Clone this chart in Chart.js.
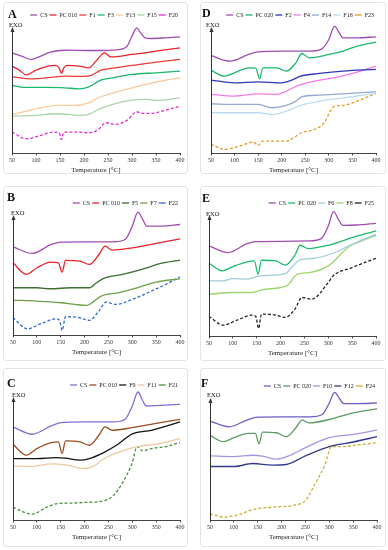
<!DOCTYPE html>
<html><head><meta charset="utf-8">
<script src="https://cdn.jsdelivr.net/npm/chart.js@4"></script>
<style>
html,body{margin:0;padding:0;background:#fff;}
body{width:388px;height:550px;position:relative;overflow:hidden;font-family:"Liberation Serif",serif;color:#111;}
.box{position:absolute;border:1px solid #e4e4e4;border-radius:3px;box-sizing:border-box;}
.cv{position:absolute;}
.lt{position:absolute;font-weight:bold;font-size:12px;line-height:1;}
.exo{position:absolute;font-size:6.5px;line-height:1;}
</style></head><body>
<div class="box" style="left:3px;top:2px;width:185px;height:172px"></div>
<div class="box" style="left:200px;top:2px;width:186px;height:172px"></div>
<div class="box" style="left:3px;top:186px;width:185px;height:175px"></div>
<div class="box" style="left:200px;top:186px;width:186px;height:175px"></div>
<div class="box" style="left:3px;top:368px;width:185px;height:179px"></div>
<div class="box" style="left:200px;top:368px;width:186px;height:179px"></div>
<canvas id="cA" class="cv" style="left:0;top:0"></canvas>
<canvas id="cD" class="cv" style="left:194px;top:0"></canvas>
<canvas id="cB" class="cv" style="left:0;top:180px"></canvas>
<canvas id="cE" class="cv" style="left:194px;top:180px"></canvas>
<canvas id="cC" class="cv" style="left:0;top:362px"></canvas>
<canvas id="cF" class="cv" style="left:194px;top:362px"></canvas>
<div class="lt" style="left:8px;top:8px">A</div>
<div class="lt" style="left:202px;top:7px">D</div>
<div class="lt" style="left:7px;top:191px">B</div>
<div class="lt" style="left:202px;top:192px">E</div>
<div class="lt" style="left:7px;top:377px">C</div>
<div class="lt" style="left:201px;top:377px">F</div>
<div class="exo" style="left:9px;top:22px">EXO</div>
<div class="exo" style="left:206px;top:22px">EXO</div>
<div class="exo" style="left:11px;top:210px">EXO</div>
<div class="exo" style="left:206px;top:211px">EXO</div>
<div class="exo" style="left:12px;top:392px">EXO</div>
<div class="exo" style="left:207px;top:392px">EXO</div>
<script>
// x-axis tick labels (°C)
const tempTicks = [50, 100, 150, 200, 250, 300, 350, 400];

// Panel A  [temperature °C, heat flow (arb. units)]
const A_CS = [[50,30.2],[70,29.2],[90,28.2],[110,29.2],[130,30.4],[150,30.9],[170,31.0],[200,30.9],[230,30.9],[260,31.0],[280,31.4],[290,32.2],[300,35.2],[310,37.7],[318,36.2],[327,34.7],[340,34.5],[370,34.7],[400,35.0]];
const A_PC010 = [[50,26.2],[65,25.0],[80,23.6],[100,25.0],[120,26.0],[140,26.4],[148,25.7],[153,24.0],[158,25.7],[165,26.4],[190,26.2],[210,25.7],[225,27.7],[243,30.2],[255,29.0],[300,29.7],[350,30.7],[400,31.7]];
const A_F1 = [[50,23.0],[90,22.4],[130,22.8],[160,23.2],[200,23.1],[215,23.4],[235,25.0],[260,25.6],[300,26.4],[350,27.4],[400,28.2]];
const A_F3 = [[50,20.4],[80,19.8],[120,19.8],[160,19.7],[190,19.4],[210,20.0],[235,22.0],[260,22.7],[300,23.7],[350,24.2],[400,24.7]];
const A_F13 = [[50,11.7],[80,12.7],[120,14.0],[150,14.4],[180,14.4],[210,15.2],[230,16.7],[250,17.7],[300,19.7],[350,21.4],[400,22.7]];
const A_F15 = [[50,11.2],[100,11.4],[140,11.9],[170,11.7],[190,11.4],[210,11.7],[230,13.2],[260,14.7],[300,16.0],[330,16.2],[350,15.9],[400,16.7]];
const A_F20 = [[50,6.4],[80,4.4],[110,5.4],[135,6.4],[148,6.2],[153,4.2],[158,6.4],[180,6.4],[210,6.2],[230,7.2],[245,9.2],[265,8.7],[290,10.0],[310,12.5],[320,12.0],[340,12.0],[370,13.0],[400,14.2]];

// Panel D
const D_CS = [[50,29.4],[90,27.7],[130,29.7],[150,30.5],[200,30.7],[260,30.7],[285,31.4],[300,34.2],[312,38.2],[322,36.2],[330,34.7],[360,34.7],[400,35.0]];
const D_PC020 = [[50,25.0],[78,23.2],[100,24.2],[130,25.7],[145,25.6],[153,22.4],[160,25.7],[190,25.7],[210,24.7],[230,27.2],[243,30.0],[258,28.7],[300,29.7],[330,30.7],[360,32.2],[400,33.4]];
const D_F2 = [[50,22.0],[100,21.2],[150,21.5],[200,21.2],[220,21.9],[240,23.2],[280,24.0],[330,24.7],[400,25.2]];
const D_F4 = [[50,17.7],[100,17.2],[150,17.9],[190,17.7],[210,18.7],[235,20.4],[270,21.7],[320,23.0],[360,24.4],[400,26.2]];
const D_F14 = [[50,14.9],[100,14.7],[150,14.7],[180,13.7],[210,14.4],[230,15.7],[242,17.0],[280,17.5],[330,17.9],[400,18.5]];
const D_F16 = [[50,12.2],[100,12.2],[150,12.2],[180,11.7],[210,12.7],[240,14.4],[280,15.7],[330,16.7],[400,18.0]];
const D_F23 = [[50,2.7],[80,1.2],[110,2.2],[140,3.4],[150,2.4],[160,3.7],[210,3.7],[225,4.7],[245,6.4],[265,6.9],[290,9.2],[310,14.0],[330,14.4],[360,15.7],[400,18.0]];

// Panel B
const B_CS = [[50,26.6],[90,24.6],[130,27.3],[150,28.0],[200,28.1],[260,28.1],[285,28.8],[300,32.8],[312,37.0],[322,34.8],[330,32.8],[360,32.8],[400,33.3]];
const B_PC010 = [[50,21.8],[78,18.3],[100,20.3],[130,22.0],[145,21.8],[153,19.0],[160,22.5],[190,22.3],[210,21.3],[230,24.3],[243,26.8],[258,25.6],[300,26.3],[350,27.6],[400,29.0]];
const B_F5 = [[50,14.3],[100,14.3],[130,14.0],[170,14.3],[210,14.3],[225,15.8],[240,17.1],[280,18.3],[320,19.8],[360,21.6],[400,22.6]];
const B_F7 = [[50,10.6],[100,10.3],[150,9.8],[180,9.3],[205,9.0],[220,10.3],[235,11.8],[270,12.8],[310,14.3],[350,16.0],[400,17.0]];
const B_F22 = [[50,5.3],[80,2.0],[110,3.6],[140,5.0],[148,4.3],[153,1.5],[160,5.6],[190,5.3],[210,4.5],[230,7.3],[245,10.0],[265,9.3],[300,10.8],[340,13.3],[370,15.3],[400,17.6]];

// Panel E
const E_CS = [[50,27.2],[90,25.2],[130,27.9],[150,28.5],[200,28.6],[260,28.7],[285,29.4],[300,33.2],[311,37.5],[322,35.0],[330,33.4],[360,33.5],[400,34.0]];
const E_PC020 = [[50,22.0],[78,19.7],[100,21.0],[130,22.4],[145,22.7],[153,18.7],[160,22.9],[190,22.7],[210,21.4],[230,24.4],[241,27.4],[258,26.4],[300,27.4],[350,29.7],[400,31.7]];
const E_F6 = [[50,16.7],[80,16.7],[100,17.4],[130,17.2],[150,18.0],[180,18.4],[210,18.9],[225,21.0],[240,23.0],[270,23.5],[310,25.0],[350,27.7],[400,30.7]];
const E_F8 = [[50,12.7],[100,13.2],[140,13.2],[160,14.0],[200,14.7],[215,15.4],[235,18.7],[260,19.2],[300,21.2],[345,27.2],[370,28.7],[400,30.4]];
const E_F25 = [[50,6.0],[80,3.4],[110,5.0],[140,6.4],[148,6.0],[154,2.4],[160,6.7],[190,6.4],[210,5.7],[230,8.2],[245,11.7],[265,11.2],[300,16.2],[310,18.2],[350,20.7],[400,23.5]];

// Panel C
const C_CS = [[50,28.1],[90,25.9],[130,28.4],[150,29.4],[200,29.6],[260,29.6],[285,30.4],[300,34.4],[312,38.6],[322,35.9],[330,34.4],[360,34.6],[400,34.9]];
const C_PC010 = [[50,22.9],[78,19.6],[100,21.6],[130,23.4],[145,23.6],[153,20.1],[160,23.9],[190,23.6],[210,22.6],[230,25.6],[243,28.1],[258,27.1],[300,27.9],[350,29.2],[400,30.4]];
const C_F9 = [[50,18.6],[100,18.6],[140,18.9],[160,18.7],[190,18.1],[210,18.6],[240,20.4],[270,22.9],[300,26.0],[340,27.1],[400,29.6]];
const C_F11 = [[50,16.4],[90,16.2],[130,17.0],[160,16.7],[200,15.6],[220,16.4],[245,18.9],[280,20.9],[310,22.2],[350,22.9],[400,24.6]];
const C_F21 = [[50,3.9],[90,1.9],[120,3.9],[145,5.1],[170,5.2],[200,5.4],[240,5.9],[260,7.4],[280,11.4],[300,17.4],[310,22.2],[322,20.9],[340,21.6],[370,22.2],[400,23.4]];

// Panel F
const F_CS = [[50,30.0],[90,28.3],[130,30.5],[150,31.2],[200,31.3],[260,31.3],[285,32.0],[300,35.5],[311,38.7],[322,36.7],[330,35.3],[360,35.3],[400,35.5]];
const F_PC020 = [[50,25.7],[78,23.8],[100,25.0],[130,26.3],[145,26.3],[153,23.2],[160,26.7],[190,26.5],[210,25.3],[230,28.0],[243,30.3],[258,29.5],[300,30.5],[350,32.5],[400,33.7]];
const F_F10 = [[50,19.5],[100,19.3],[140,19.7],[160,19.4],[190,18.5],[215,19.5],[250,22.0],[300,25.0],[350,26.0],[400,27.3]];
const F_F12 = [[50,16.3],[100,16.3],[140,17.2],[180,16.7],[210,16.9],[250,19.5],[300,22.3],[350,23.7],[400,25.3]];
const F_F24 = [[50,2.0],[80,1.0],[110,1.7],[140,3.3],[180,4.0],[230,4.7],[250,6.0],[270,11.0],[290,16.5],[305,22.3],[330,22.3],[360,22.8],[400,23.5]];

const FONT = '"Liberation Serif", serif';

const arrowPlugin = {
  id: 'exoArrow',
  afterDraw(chart) {
    const {ctx, chartArea: a} = chart;
    ctx.save();
    ctx.strokeStyle = '#333'; ctx.fillStyle = '#333'; ctx.lineWidth = 1;
    const x = Math.round(a.left) + 0.5;
    ctx.beginPath(); ctx.moveTo(x, a.bottom); ctx.lineTo(x, a.top + 3); ctx.stroke();
    ctx.beginPath(); ctx.moveTo(x, a.top - 1); ctx.lineTo(x - 2, a.top + 4); ctx.lineTo(x + 2, a.top + 4); ctx.closePath(); ctx.fill();
    ctx.restore();
  }
};

function ds(label, pts, color, dashed) {
  return {
    label, data: pts.map(p => ({x: p[0], y: p[1]})),
    borderColor: color, backgroundColor: color,
    borderWidth: 1.3, borderDash: dashed ? [3, 2] : [],
    pointRadius: 0, cubicInterpolationMode: 'monotone', clip: false
  };
}

function panel(id, w, h, pad, yMax, datasets) {
  const cv = document.getElementById(id);
  cv.width = w; cv.height = h; cv.style.width = w + 'px'; cv.style.height = h + 'px';
  new Chart(cv, {
    type: 'line',
    data: { datasets },
    options: {
      responsive: false, animation: false, devicePixelRatio: 1,
      layout: { padding: pad },
      plugins: {
        legend: {
          display: true, position: 'top', align: 'end',
          labels: { font: {family: FONT, size: 6}, color: '#222', usePointStyle: true, pointStyle: 'line', pointStyleWidth: 7, boxHeight: 6, padding: 2 }
        },
        tooltip: { enabled: false }
      },
      scales: {
        x: {
          type: 'linear', min: 50, max: 400,
          afterBuildTicks: s => { s.ticks = tempTicks.map(v => ({value: v})); },
          ticks: { font: {family: FONT, size: 6}, color: '#333', padding: 1, maxRotation: 0, autoSkip: false },
          grid: { display: true, drawOnChartArea: false, drawTicks: true, tickLength: 2, color: '#444' },
          border: { display: true, color: '#444', width: 1 },
          title: { display: true, text: 'Temperature [°C]', font: {family: FONT, size: 7}, color: '#222', padding: {top: 1, bottom: 0} }
        },
        y: { display: false, min: 0, max: yMax }
      }
    },
    plugins: [arrowPlugin]
  });
}

const CSP = '#a04cb0';
panel('cA', 194, 180, {left: 12, right: 14, top: 10, bottom: 6}, 37.65, [
  ds('CS', A_CS, CSP), ds('PC 010', A_PC010, '#e8232b'), ds('F1', A_F1, '#ee3a36'),
  ds('F3', A_F3, '#19b96b'), ds('F13', A_F13, '#f9c99d'), ds('F15', A_F15, '#a9d6a6'), ds('F20', A_F20, '#e62ccf', true)
]);
panel('cD', 194, 180, {left: 17, right: 12, top: 10, bottom: 6}, 37.65, [
  ds('CS', D_CS, CSP), ds('PC 020', D_PC020, '#19b96b'), ds('F2', D_F2, '#2d38b8'),
  ds('F4', D_F4, '#f47ae8'), ds('F14', D_F14, '#93aad3'), ds('F16', D_F16, '#bcdcf2'), ds('F23', D_F23, '#e39b2c', true)
]);
panel('cB', 194, 182, {left: 13, right: 14, top: 18, bottom: 6}, 35.85, [
  ds('CS', B_CS, CSP), ds('PC 010', B_PC010, '#e8232b'), ds('F5', B_F5, '#3b6e2f'),
  ds('F7', B_F7, '#6fa046'), ds('F22', B_F22, '#3569d4', true)
]);
panel('cE', 194, 182, {left: 15, right: 12, top: 18, bottom: 5}, 36.2, [
  ds('CS', E_CS, CSP), ds('PC 020', E_PC020, '#19b96b'), ds('F6', E_F6, '#9fcbdc'),
  ds('F8', E_F8, '#9fd46e'), ds('F25', E_F25, '#222222', true)
]);
panel('cC', 194, 188, {left: 13, right: 14, top: 18, bottom: 9}, 36.8, [
  ds('CS', C_CS, '#7b72d8'), ds('PC 010', C_PC010, '#9b4d1f'), ds('F9', C_F9, '#111111'),
  ds('F11', C_F11, '#ecc9a0'), ds('F21', C_F21, '#4d8f3d', true)
]);
panel('cF', 194, 188, {left: 16, right: 11, top: 19, bottom: 9}, 36.7, [
  ds('CS', F_CS, '#6b5cc4'), ds('PC 020', F_PC020, '#5c9a63'), ds('F10', F_F10, '#a495e6'),
  ds('F12', F_F12, '#33388f'), ds('F24', F_F24, '#cdb036', true)
]);
</script>
</body></html>
